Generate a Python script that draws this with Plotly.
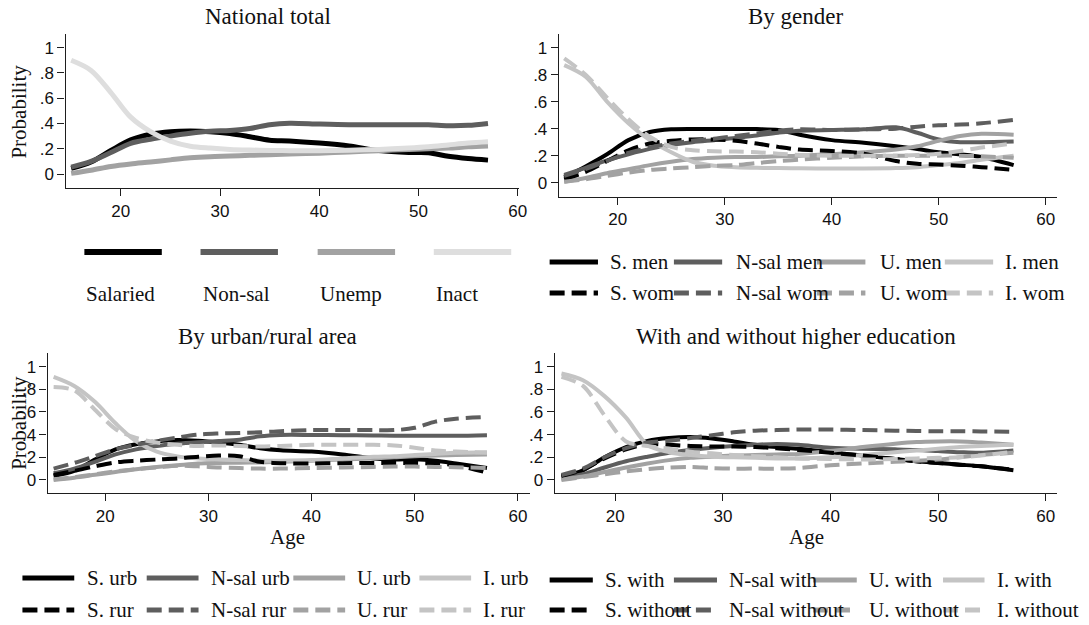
import plotly.graph_objects as go

W, H = 1089, 625

# ---------------- data ----------------
ages_nat = [15, 17, 19, 21, 23, 25, 27, 29, 31, 33, 35, 37, 40, 43, 46, 49, 51, 53, 55, 57]
nat_salaried = [0.045, 0.095, 0.186, 0.27, 0.315, 0.335, 0.34, 0.335, 0.32, 0.295, 0.268, 0.262, 0.245, 0.222, 0.185, 0.17, 0.168, 0.14, 0.122, 0.11]
nat_nonsal = [0.055, 0.1, 0.17, 0.243, 0.275, 0.3, 0.322, 0.338, 0.345, 0.36, 0.39, 0.402, 0.395, 0.39, 0.39, 0.39, 0.39, 0.382, 0.385, 0.40]
nat_unemp = [0.005, 0.03, 0.06, 0.08, 0.095, 0.112, 0.128, 0.137, 0.142, 0.148, 0.152, 0.158, 0.165, 0.175, 0.185, 0.195, 0.2, 0.205, 0.215, 0.222]
nat_inact = [0.9, 0.82, 0.645, 0.45, 0.335, 0.26, 0.22, 0.205, 0.195, 0.19, 0.187, 0.185, 0.185, 0.188, 0.195, 0.205, 0.215, 0.23, 0.245, 0.255]
nat_labels = ["Salaried", "Non-sal", "Unemp", "Inact"]

ages = [15, 17, 19, 21, 23, 25, 27, 29, 31, 33, 35, 37, 40, 43, 46, 48, 50, 52, 54, 57]

gen_s_men = [0.04, 0.12, 0.21, 0.315, 0.375, 0.395, 0.398, 0.398, 0.398, 0.397, 0.39, 0.355, 0.315, 0.295, 0.27, 0.25, 0.225, 0.21, 0.19, 0.13]
gen_n_men = [0.057, 0.11, 0.165, 0.21, 0.25, 0.28, 0.3, 0.315, 0.33, 0.35, 0.37, 0.385, 0.39, 0.395, 0.41, 0.37, 0.32, 0.3, 0.3, 0.305]
gen_u_men = [0.007, 0.035, 0.07, 0.1, 0.13, 0.155, 0.175, 0.185, 0.19, 0.19, 0.195, 0.2, 0.21, 0.225, 0.245, 0.27, 0.31, 0.345, 0.362, 0.355]
gen_i_men = [0.87, 0.785, 0.6, 0.44, 0.315, 0.225, 0.155, 0.125, 0.115, 0.11, 0.108, 0.106, 0.105, 0.105, 0.108, 0.115, 0.13, 0.145, 0.17, 0.2]
gen_s_wom = [0.025, 0.08, 0.16, 0.24, 0.29, 0.31, 0.32, 0.32, 0.31, 0.29, 0.265, 0.245, 0.235, 0.215, 0.16, 0.14, 0.135, 0.125, 0.115, 0.095]
gen_n_wom = [0.05, 0.1, 0.16, 0.22, 0.26, 0.29, 0.31, 0.325, 0.345, 0.365, 0.385, 0.395, 0.39, 0.395, 0.4, 0.415, 0.425, 0.43, 0.44, 0.465]
gen_u_wom = [0.007, 0.025, 0.05, 0.075, 0.095, 0.105, 0.115, 0.125, 0.13, 0.145, 0.16, 0.17, 0.185, 0.195, 0.2, 0.2, 0.2, 0.2, 0.195, 0.185]
gen_i_wom = [0.92, 0.8, 0.63, 0.47, 0.34, 0.265, 0.24, 0.232, 0.23, 0.225, 0.215, 0.205, 0.2, 0.2, 0.2, 0.205, 0.215, 0.235, 0.26, 0.29]
gen_labels = ["S. men", "N-sal men", "U. men", "I. men", "S. wom", "N-sal wom", "U. wom", "I. wom"]

area_s_urb = [0.035, 0.08, 0.18, 0.27, 0.315, 0.34, 0.352, 0.345, 0.33, 0.31, 0.28, 0.262, 0.25, 0.225, 0.19, 0.18, 0.183, 0.17, 0.145, 0.105]
area_n_urb = [0.06, 0.1, 0.16, 0.225, 0.27, 0.3, 0.32, 0.333, 0.343, 0.355, 0.385, 0.397, 0.397, 0.395, 0.393, 0.39, 0.39, 0.39, 0.39, 0.395]
area_u_urb = [0.0, 0.02, 0.045, 0.07, 0.095, 0.115, 0.13, 0.145, 0.15, 0.152, 0.155, 0.16, 0.17, 0.18, 0.19, 0.2, 0.21, 0.215, 0.22, 0.225]
area_i_urb = [0.91, 0.83, 0.69, 0.5, 0.34, 0.25, 0.208, 0.19, 0.18, 0.175, 0.17, 0.17, 0.175, 0.19, 0.205, 0.21, 0.22, 0.23, 0.24, 0.245]
area_s_rur = [0.045, 0.08, 0.12, 0.155, 0.17, 0.18, 0.19, 0.205, 0.215, 0.21, 0.16, 0.148, 0.145, 0.148, 0.15, 0.15, 0.15, 0.145, 0.13, 0.065]
area_n_rur = [0.1, 0.15, 0.21, 0.27, 0.31, 0.345, 0.375, 0.4, 0.41, 0.415, 0.42, 0.43, 0.44, 0.44, 0.44, 0.44, 0.46, 0.515, 0.54, 0.555]
area_u_rur = [0.006, 0.025, 0.05, 0.075, 0.095, 0.11, 0.125, 0.12, 0.11, 0.105, 0.1, 0.1, 0.105, 0.11, 0.115, 0.118, 0.118, 0.115, 0.112, 0.105]
area_i_rur = [0.82, 0.79, 0.62, 0.45, 0.37, 0.33, 0.31, 0.3, 0.305, 0.3, 0.295, 0.3, 0.31, 0.31, 0.31, 0.305, 0.285, 0.26, 0.25, 0.24]
area_labels = ["S. urb", "N-sal urb", "U. urb", "I. urb", "S. rur", "N-sal rur", "U. rur", "I. rur"]

edu_s_with = [0.03, 0.085, 0.2, 0.29, 0.345, 0.37, 0.378, 0.365, 0.34, 0.31, 0.29, 0.275, 0.245, 0.215, 0.185, 0.165, 0.15, 0.135, 0.12, 0.085]
edu_n_with = [0.015, 0.05, 0.11, 0.165, 0.205, 0.24, 0.265, 0.285, 0.3, 0.31, 0.318, 0.31, 0.285, 0.275, 0.27, 0.265, 0.255, 0.245, 0.24, 0.26]
edu_u_with = [0.006, 0.03, 0.07, 0.11, 0.145, 0.175, 0.195, 0.205, 0.215, 0.22, 0.225, 0.23, 0.255, 0.29, 0.32, 0.335, 0.34, 0.34, 0.33, 0.31]
edu_i_with = [0.94, 0.88, 0.74, 0.55, 0.31, 0.245, 0.22, 0.205, 0.2, 0.195, 0.19, 0.19, 0.2, 0.22, 0.245, 0.26, 0.275, 0.29, 0.3, 0.31]
edu_s_without = [0.035, 0.09, 0.19, 0.27, 0.315, 0.31, 0.3, 0.295, 0.295, 0.29, 0.28, 0.265, 0.24, 0.215, 0.185, 0.165, 0.15, 0.135, 0.12, 0.09]
edu_n_without = [0.044, 0.1, 0.2, 0.28, 0.33, 0.345, 0.37, 0.395, 0.42, 0.435, 0.44, 0.445, 0.445, 0.44, 0.435, 0.432, 0.43, 0.43, 0.428, 0.425]
edu_u_without = [0.0, 0.025, 0.05, 0.075, 0.095, 0.11, 0.115, 0.105, 0.1, 0.1, 0.1, 0.105, 0.13, 0.145, 0.16, 0.17, 0.18, 0.2, 0.22, 0.24]
edu_i_without = [0.91, 0.83, 0.57, 0.34, 0.3, 0.275, 0.25, 0.235, 0.22, 0.21, 0.2, 0.19, 0.185, 0.18, 0.185, 0.19, 0.195, 0.2, 0.215, 0.25]
edu_labels = ["S. with", "N-sal with", "U. with", "I. with", "S. without", "N-sal without", "U. without", "I. without"]

titles = ["National total", "By gender", "By urban/rural area", "With and without higher education"]
y_tickvals = [0, 0.2, 0.4, 0.6, 0.8, 1]
y_ticktext = ["0", ".2", ".4", ".6", ".8", "1"]
x_tickvals = [20, 30, 40, 50, 60]

# ---------------- styles ----------------
C_S, C_N, C_U, C_I1, C_I = "#000000", "#5e5e5e", "#a2a2a2", "#dedede", "#c4c4c4"
DASH = "15px,7px"
SERIF = "Liberation Serif, Times New Roman, serif"
SANS = "Liberation Sans, Arial, sans-serif"
AX = "#1e1e1e"

# panel geometry in pixels: (x_left, x_right), (y_top, y_bottom), ranges
geo = [
    dict(px=(66, 523.3), py=(34, 188.3), xr=(14.43, 60.17), yr=(-0.113, 1.108), tly=211.7),
    dict(px=(563, 1064.8), py=(34.3, 196.7), xr=(14.5, 61.05), yr=(-0.104, 1.099), tly=220),
    dict(px=(48, 533.7), py=(353.3, 493.3), xr=(14.42, 61.15), yr=(-0.118, 1.118), tly=516.7),
    dict(px=(558.9, 1064.8), py=(353.3, 493.3), xr=(14.38, 61.05), yr=(-0.118, 1.118), tly=516.7),
]


def fx(p):
    return p / W


def fy(p):
    return 1 - p / H


fig = go.Figure()

series = [
    [(ages_nat, nat_salaried, C_S, None), (ages_nat, nat_nonsal, C_N, None),
     (ages_nat, nat_unemp, C_U, None), (ages_nat, nat_inact, C_I1, None)],
    [(ages, gen_s_men, C_S, None), (ages, gen_n_men, C_N, None), (ages, gen_u_men, C_U, None), (ages, gen_i_men, C_I, None),
     (ages, gen_s_wom, C_S, DASH), (ages, gen_n_wom, C_N, DASH), (ages, gen_u_wom, C_U, DASH), (ages, gen_i_wom, C_I, DASH)],
    [(ages, area_s_urb, C_S, None), (ages, area_n_urb, C_N, None), (ages, area_u_urb, C_U, None), (ages, area_i_urb, C_I, None),
     (ages, area_s_rur, C_S, DASH), (ages, area_n_rur, C_N, DASH), (ages, area_u_rur, C_U, DASH), (ages, area_i_rur, C_I, DASH)],
    [(ages, edu_s_with, C_S, None), (ages, edu_n_with, C_N, None), (ages, edu_u_with, C_U, None), (ages, edu_i_with, C_I, None),
     (ages, edu_s_without, C_S, DASH), (ages, edu_n_without, C_N, DASH), (ages, edu_u_without, C_U, DASH), (ages, edu_i_without, C_I, DASH)],
]
labels = [nat_labels, gen_labels, area_labels, edu_labels]

layout_axes = {}
for k, g in enumerate(geo):
    n = "" if k == 0 else str(k + 1)
    lw = 5 if k == 0 else 4
    for (xs, ys, col, dash) in series[k]:
        fig.add_trace(go.Scatter(
            x=xs, y=ys, mode="lines", showlegend=False, hoverinfo="skip",
            line=dict(color=col, width=lw, dash=dash if dash else "solid", shape="spline", smoothing=0.9),
            xaxis="x" + n, yaxis="y" + n,
        ))
    layout_axes["xaxis" + n] = dict(
        domain=[fx(g["px"][0]), fx(g["px"][1])], range=list(g["xr"]), anchor="y" + n,
        tickvals=x_tickvals, ticks="outside", ticklen=7, tickwidth=1.3, tickcolor=AX,
        showline=True, linecolor=AX, linewidth=1.3, showgrid=False, zeroline=False,
        tickfont=dict(family=SANS, size=17, color="#111"), fixedrange=True,
    )
    layout_axes["yaxis" + n] = dict(
        domain=[fy(g["py"][1]), fy(g["py"][0])], range=list(g["yr"]), anchor="x" + n,
        tickvals=y_tickvals, ticktext=y_ticktext, ticks="outside", ticklen=7, tickwidth=1.3, tickcolor=AX,
        showline=True, linecolor=AX, linewidth=1.3, showgrid=False, zeroline=False,
        tickfont=dict(family=SANS, size=17, color="#111"), fixedrange=True,
    )

annotations = []
shapes = []

# titles
title_pos = [(270, 16.7), (802, 16.7), (269.5, 336.7), (802, 336.5)]
for t, (cx, cy) in zip(titles, title_pos):
    annotations.append(dict(text=t, x=fx(cx), y=fy(cy), xref="paper", yref="paper", xanchor="center",
                            yanchor="middle", showarrow=False, font=dict(family=SERIF, size=23, color="#111")))

# axis titles
for cx, cy in [(19, 111.7), (19, 423)]:
    annotations.append(dict(text="Probability", x=fx(cx), y=fy(cy), xref="paper", yref="paper", textangle=-90,
                            xanchor="center", yanchor="middle", showarrow=False,
                            font=dict(family=SERIF, size=21, color="#111")))
for cx, cy in [(290, 536.7), (812.7, 536.7)]:
    annotations.append(dict(text="Age", x=fx(cx), y=fy(cy), xref="paper", yref="paper", xanchor="center",
                            yanchor="middle", showarrow=False, font=dict(family=SERIF, size=21, color="#111")))

# legend: panel 1 (line above label)
leg1_cols = [85, 202, 320, 437]
for lab, (xs, ys, col, dash), x0 in zip(nat_labels, series[0], leg1_cols):
    shapes.append(dict(type="line", xref="paper", yref="paper", x0=fx(x0), x1=fx(x0 + 78), y0=fy(252), y1=fy(252),
                       line=dict(color=col, width=6)))
    annotations.append(dict(text=lab, x=fx(x0), y=fy(293.5), xref="paper", yref="paper", xanchor="left",
                            yanchor="middle", showarrow=False, font=dict(family=SERIF, size=21, color="#111")))

# legends for panels 2-4 (two rows, four columns)
leg_specs = [
    dict(rows=(262, 293), lines=[(553.7, 602.4), (678.9, 727.5), (823, 871.8), (951.8, 1000.5)],
         texts=[612.8, 739, 884, 1010.9]),
    dict(rows=(578, 610), lines=[(22.6, 74.8), (147.8, 200), (295.5, 347.7), (422.5, 474.6)],
         texts=[85.2, 210.4, 358, 485]),
    dict(rows=(580, 610), lines=[(553.7, 597.2), (678.9, 722.3), (819, 863.1), (950, 991.8)],
         texts=[607.6, 732.8, 873.6, 1002.2]),
]
for k, spec in enumerate(leg_specs, start=1):
    for i, (lab, (xs, ys, col, dash)) in enumerate(zip(labels[k], series[k])):
        r = i // 4
        c = i % 4
        yy = spec["rows"][r]
        l0, l1 = spec["lines"][c]
        shapes.append(dict(type="line", xref="paper", yref="paper", x0=fx(l0), x1=fx(l1), y0=fy(yy), y1=fy(yy),
                           line=dict(color=col, width=5, dash=dash if dash else "solid")))
        annotations.append(dict(text=lab, x=fx(spec["texts"][c]), y=fy(yy), xref="paper", yref="paper",
                                xanchor="left", yanchor="middle", showarrow=False,
                                font=dict(family=SERIF, size=21, color="#111")))

fig.update_layout(
    width=W, height=H, autosize=False, margin=dict(l=0, r=0, t=0, b=0),
    paper_bgcolor="white", plot_bgcolor="white", showlegend=False,
    annotations=annotations, shapes=shapes, **layout_axes,
)

fig.write_html("out.html")
